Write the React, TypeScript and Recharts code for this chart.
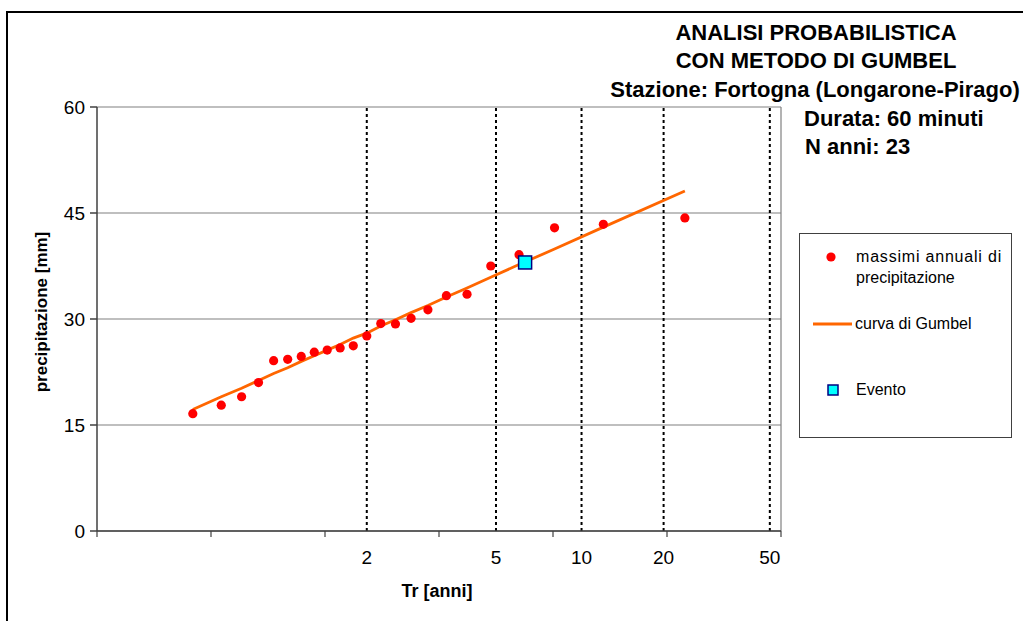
import React from "react";
import {
  ComposedChart,
  Line,
  Scatter,
  XAxis,
  YAxis,
  CartesianGrid,
  ReferenceLine,
} from "recharts";

// Return periods (Weibull plotting positions) of the 23 annual maxima
const returnPeriods = [
  1.043, 1.091, 1.143, 1.2, 1.263, 1.333, 1.412, 1.5, 1.6, 1.714, 1.846, 2,
  2.182, 2.4, 2.667, 3, 3.429, 4, 4.8, 6, 8, 12, 24,
];
// Annual maximum precipitation [mm]
const annualMaxima = [
  16.6, 17.8, 19.0, 21.0, 24.1, 24.3, 24.7, 25.3, 25.6, 25.9, 26.2, 27.6,
  29.35, 29.3, 30.1, 31.3, 33.3, 33.5, 37.5, 39.1, 42.9, 43.4, 44.3,
];
// Gumbel curve values at the same return periods [mm]
const gumbelCurve = [
  17.2, 19.0, 20.2, 21.3, 22.3, 23.1, 24.0, 24.8, 25.6, 26.4, 27.3, 28.0,
  29.0, 29.9, 30.9, 31.9, 33.1, 34.4, 35.9, 37.7, 39.9, 43.0, 48.1,
];
// Event
const eventTr = [6.3];
const eventValue = [38];

// Axis tick labels
const trTickLabels = [2, 5, 10, 20, 50];
const reducedTicks = [-2, -1, 0, 1, 2, 3, 4];
const yTicks = [0, 15, 30, 45, 60];

// Gumbel probability-paper transform (reduced variate)
const gumbelY = (tr: number) => -Math.log(-Math.log(1 - 1 / tr));

const pointsData = returnPeriods.map((tr, i) => ({ x: gumbelY(tr), y: annualMaxima[i] }));
const curveData = returnPeriods.map((tr, i) => ({ x: gumbelY(tr), y: gumbelCurve[i] }));
const eventData = eventTr.map((tr, i) => ({ x: gumbelY(tr), y: eventValue[i] }));
const labelTickPositions = trTickLabels.map((t) => gumbelY(t));
const allXTicks = [...reducedTicks, ...labelTickPositions];

const FONT = "'Liberation Sans', Arial, Helvetica, sans-serif";

const XTick = (props: any) => {
  const { x, y, payload } = props;
  const v = payload.value;
  const idx = labelTickPositions.findIndex((p) => Math.abs(p - v) < 1e-6);
  if (idx >= 0) {
    return (
      <text
        x={x}
        y={y + 33}
        textAnchor="middle"
        fontSize={19}
        fontFamily={FONT}
        fill="#000"
      >
        {trTickLabels[idx]}
      </text>
    );
  }
  return <line x1={x} x2={x} y1={y} y2={y + 6} stroke="#404040" strokeWidth={1.2} />;
};

const Dot = (props: any) => {
  const { cx, cy } = props;
  if (cx == null || cy == null) return null;
  return <circle cx={cx} cy={cy} r={4.6} fill="#FF0000" />;
};

const EventSquare = (props: any) => {
  const { cx, cy } = props;
  if (cx == null || cy == null) return null;
  return (
    <rect
      x={cx - 6.5}
      y={cy - 6.5}
      width={13}
      height={13}
      fill="#00FFFF"
      stroke="#000080"
      strokeWidth={1.5}
    />
  );
};

const titleLine = (text: string, cy: number, left: number, width: number, align: "center" | "left") => (
  <div
    style={{
      position: "absolute",
      left,
      top: cy - 13,
      width,
      height: 26,
      lineHeight: "26px",
      textAlign: align,
      fontWeight: "bold",
      fontSize: 22,
      whiteSpace: "nowrap",
      color: "#000",
    }}
  >
    {text}
  </div>
);

export default function App() {
  return (
    <div
      style={{
        position: "absolute",
        left: 0,
        top: 0,
        width: 1023,
        height: 621,
        overflow: "hidden",
        background: "#fff",
        fontFamily: FONT,
      }}
    >
      {/* chart-area frame */}
      <div
        style={{
          position: "absolute",
          left: 6,
          top: 11,
          width: 1100,
          height: 700,
          borderLeft: "2px solid #000",
          borderTop: "2px solid #000",
        }}
      />
      <div style={{ position: "absolute", left: 0, top: 0 }}>
        <ComposedChart
          width={1023}
          height={621}
          margin={{ top: 107, right: 242, bottom: 60, left: 37 }}
        >
          <CartesianGrid horizontal vertical={false} stroke="#808080" strokeWidth={1.2} />
          <XAxis
            type="number"
            dataKey="x"
            domain={[-2, 4]}
            allowDataOverflow
            ticks={allXTicks}
            interval={0}
            tickLine={false}
            tickSize={0}
            tickMargin={0}
            height={30}
            stroke="#404040"
            strokeWidth={1.5}
            tick={<XTick />}
          />
          <YAxis
            type="number"
            dataKey="y"
            domain={[0, 60]}
            ticks={yTicks}
            interval={0}
            width={60}
            tickSize={7}
            tickMargin={5}
            stroke="#404040"
            strokeWidth={1.5}
            tick={{ fill: "#000", fontSize: 19, fontFamily: FONT }}
          />
          <ReferenceLine x={4} stroke="#808080" strokeWidth={1.2} />
          {labelTickPositions.map((p, i) => (
            <ReferenceLine
              key={i}
              x={p}
              stroke="#000"
              strokeWidth={2}
              strokeDasharray="3 3"
            />
          ))}
          <Line
            data={curveData}
            dataKey="y"
            type="linear"
            stroke="#FF6600"
            strokeWidth={2.8}
            dot={false}
            activeDot={false}
            isAnimationActive={false}
          />
          <Scatter data={pointsData} dataKey="y" shape={<Dot />} isAnimationActive={false} />
          <Scatter data={eventData} dataKey="y" shape={<EventSquare />} isAnimationActive={false} />
        </ComposedChart>
      </div>

      {/* axis titles */}
      <div
        style={{
          position: "absolute",
          left: 42 - 150,
          top: 312 - 12,
          width: 300,
          height: 24,
          lineHeight: "24px",
          textAlign: "center",
          fontWeight: "bold",
          fontSize: 17,
          transform: "rotate(-90deg)",
          whiteSpace: "nowrap",
        }}
      >
        precipitazione [mm]
      </div>
      <div
        style={{
          position: "absolute",
          left: 437 - 100,
          top: 591 - 12,
          width: 200,
          height: 24,
          lineHeight: "24px",
          textAlign: "center",
          fontWeight: "bold",
          fontSize: 18,
          whiteSpace: "nowrap",
        }}
      >
        Tr [anni]
      </div>

      {/* title block */}
      {titleLine("ANALISI PROBABILISTICA", 33, 616, 400, "center")}
      {titleLine("CON METODO DI GUMBEL", 61, 616, 400, "center")}
      {titleLine("Stazione: Fortogna (Longarone-Pirago)", 90, 595, 440, "center")}
      {titleLine("Durata: 60 minuti", 119, 804, 220, "left")}
      {titleLine("N anni: 23", 147, 805, 220, "left")}

      {/* legend */}
      <div
        style={{
          position: "absolute",
          left: 799,
          top: 233,
          width: 211,
          height: 203,
          border: "1px solid #404040",
          background: "#fff",
        }}
      />
      <svg
        style={{ position: "absolute", left: 0, top: 0 }}
        width={1023}
        height={621}
      >
        <circle cx={831} cy={257} r={4.6} fill="#FF0000" />
        <line x1={813} x2={852} y1={324} y2={324} stroke="#FF6600" strokeWidth={3} />
        <rect x={828} y={385} width={10} height={10} fill="#00FFFF" stroke="#000080" strokeWidth={1.5} />
      </svg>
      {[
        { t: "massimi annuali di", y: 257, ls: 0.8 },
        { t: "precipitazione", y: 278, ls: 0 },
        { t: "curva di Gumbel", y: 324, ls: 0 },
        { t: "Evento", y: 390, ls: 0 },
      ].map((it, i) => (
        <div
          key={i}
          style={{
            position: "absolute",
            left: i === 2 ? 855 : 856,
            top: it.y - 11,
            height: 22,
            lineHeight: "22px",
            fontSize: 16,
            letterSpacing: it.ls,
            whiteSpace: "nowrap",
            color: "#000",
          }}
        >
          {it.t}
        </div>
      ))}
    </div>
  );
}
